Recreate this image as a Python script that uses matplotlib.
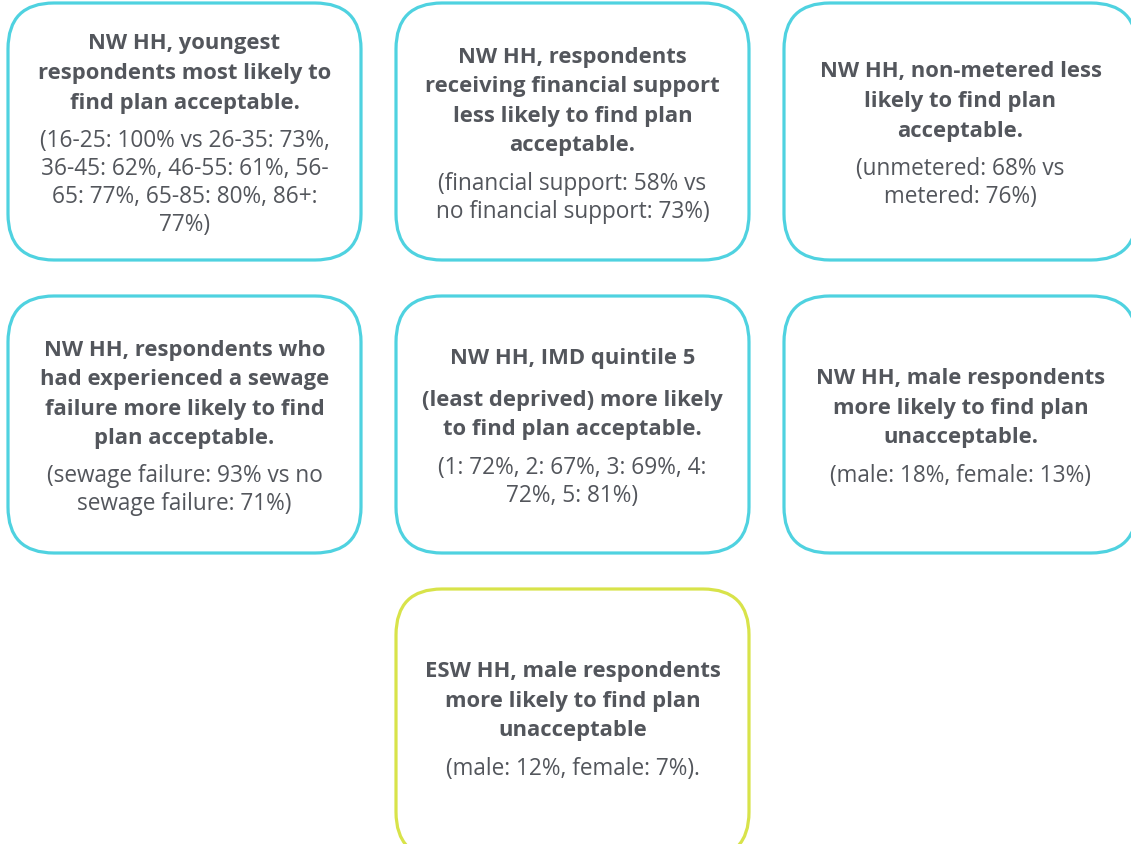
import matplotlib.pyplot as plt
from matplotlib.patches import FancyBboxPatch

# box contents, row by row
titles = [
    "NW HH, youngest\nrespondents most likely to\nfind plan acceptable.",
    "NW HH, respondents\nreceiving financial support\nless likely to find plan\nacceptable.",
    "NW HH, non-metered less\nlikely to find plan\nacceptable.",
    "NW HH, respondents who\nhad experienced a sewage\nfailure more likely to find\nplan acceptable.",
    "NW HH, IMD quintile 5\n\n(least deprived) more likely\nto find plan acceptable.",
    "NW HH, male respondents\nmore likely to find plan\nunacceptable.",
    "ESW HH, male respondents\nmore likely to find plan\nunacceptable",
]
bodies = [
    "(16-25: 100% vs 26-35: 73%,\n36-45: 62%, 46-55: 61%, 56-\n65: 77%, 65-85: 80%, 86+:\n77%)",
    "(financial support: 58% vs\nno financial support: 73%)",
    "(unmetered: 68% vs\nmetered: 76%)",
    "(sewage failure: 93% vs no\nsewage failure: 71%)",
    "(1: 72%, 2: 67%, 3: 69%, 4:\n72%, 5: 81%)",
    "(male: 18%, female: 13%)",
    "(male: 12%, female: 7%).",
]
groups = ["NW", "NW", "NW", "NW", "NW", "NW", "ESW"]

group_colors = {"NW": "#4fd2e0", "ESW": "#d8e34a"}
text_color = "#53565c"

W, H = 1131, 845
fig = plt.figure(figsize=(W / 100, H / 100), dpi=100)
ax = fig.add_axes([0, 0, 1, 1])
ax.set_xlim(0, W)
ax.set_ylim(H, 0)
ax.axis("off")

col_x = [8, 396, 784]
row_y = [4, 297, 590]
row_h = [257, 257, 257]
bw = 353
slots = [(0, 0), (0, 1), (0, 2), (1, 0), (1, 1), (1, 2), (2, 1)]

title_lh, body_lh, para_gap, blank_lh = 29.5, 28, 9, 12
fs_title, fs_body = 15.8, 16.3
family = ["Open Sans", "DejaVu Sans"]

for title, body, grp, (r, c) in zip(titles, bodies, groups, slots):
    x0, y0, bh = col_x[c], row_y[r], row_h[r]
    # last row runs off the bottom edge like the original
    draw_h = bh + (12 if r == 2 else 0)
    box = FancyBboxPatch((x0, y0), bw, draw_h,
                         boxstyle="round,pad=0,rounding_size=46",
                         fc="white", ec=group_colors[grp], lw=2.3, clip_on=True)
    ax.add_patch(box)

    lines = [(t, "bold") for t in title.split("\n")] + [("", "gap")] + \
            [(t, "normal") for t in body.split("\n")]
    heights = []
    for t, w in lines:
        if w == "gap":
            heights.append(para_gap)
        elif t == "":
            heights.append(blank_lh)
        else:
            heights.append(title_lh if w == "bold" else body_lh)
    cx = x0 + bw / 2
    y = y0 + bh / 2 - sum(heights) / 2 + 1.5
    for (t, w), h in zip(lines, heights):
        if w != "gap" and t:
            ax.text(cx, y + h / 2, t, ha="center", va="center",
                    fontsize=fs_title if w == "bold" else fs_body,
                    fontweight=w, color=text_color, family=family)
        y += h

fig.savefig("out.png", dpi=100)
